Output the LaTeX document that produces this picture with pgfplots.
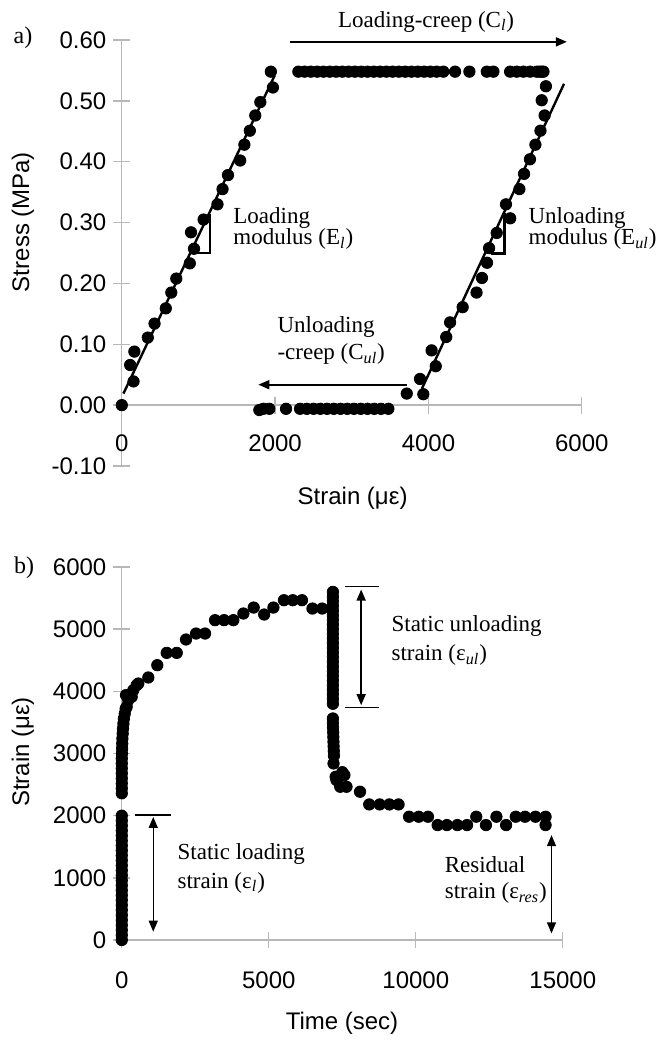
\documentclass[border=0pt]{standalone}
\usepackage{fontspec}
\setmainfont{Liberation Serif}
\setsansfont{Liberation Sans}
\usepackage{pgfplots}
\pgfplotsset{compat=1.18}
\usetikzlibrary{arrows.meta}

\pgfplotsset{
  panel/.style={
    scale only axis,
    axis x line=middle, axis y line=left,
    axis line style={-, draw=black!28, line width=0.7pt},
    tick style={draw=black!28, line width=0.7pt},
    tick align=center, major tick length=8.4pt,
    hide obscured x ticks=false, hide obscured y ticks=false,
    scaled x ticks=false, scaled y ticks=false,
    tick label style={font=\sffamily\fontsize{12}{14}\selectfont, text=black},
    clip=false,
  },
  dots/.style={only marks, mark=*, mark size=2.85pt, black},
}
\tikzset{
  ann/.style={font=\rmfamily\fontsize{11.5}{13}\selectfont, inner sep=0pt},
  lab/.style={font=\sffamily\fontsize{12}{14}\selectfont},
}

\begin{document}
\begin{tikzpicture}[>={Triangle[length=5.5pt, width=4.5pt]}]
\useasboundingbox (-60.9pt,233pt) rectangle (266.6pt,-287pt);

% a) stress against strain
\begin{axis}[panel,
  at={(0pt,0pt)}, anchor=south west,
  width=230pt, height=213pt,
  xmin=0, xmax=6000, ymin=-0.1, ymax=0.6,
  xtick={0,2000,4000,6000}, xticklabels={0,2000,4000,6000},
  ytick={-0.1,0,0.1,0.2,0.3,0.4,0.5,0.6},
  yticklabels={-0.10,0.00,0.10,0.20,0.30,0.40,0.50,0.60},
  xticklabel style={yshift=-7pt},
]
\addplot[black, line width=1.2pt] coordinates {(21,0.019) (1995,0.542)};
\addplot[black, line width=1.2pt] coordinates {(3914,0.027) (5768,0.528)};
% loading
\addplot[dots] coordinates {
  (0,0.000) (109,0.066) (153,0.039) (164,0.088) (339,0.111) (427,0.134)
  (574,0.159) (646,0.185) (711,0.208) (887,0.233) (942,0.257) (903,0.284)
  (1067,0.305) (1248,0.330) (1314,0.355) (1385,0.378) (1544,0.402)
  (1599,0.428) (1670,0.451) (1741,0.476) (1807,0.498) (1971,0.522) (1944,0.548)
};
% loading creep
\addplot[dots] coordinates {
  (2303,0.548) (2385,0.548) (2467,0.548) (2549,0.548) (2631,0.548) (2713,0.548)
  (2795,0.548) (2877,0.548) (2959,0.548) (3041,0.548) (3123,0.548) (3205,0.548)
  (3287,0.548) (3369,0.548) (3451,0.548) (3533,0.548) (3615,0.548) (3697,0.548)
  (3779,0.548) (3861,0.548) (3943,0.548) (4025,0.548) (4107,0.548) (4194,0.548)
  (4347,0.548) (4534,0.548) (4761,0.548) (4847,0.548) (5065,0.548) (5152,0.548)
  (5238,0.548) (5326,0.548) (5413,0.548) (5450,0.548) (5478,0.548) (5500,0.548)
};
% unloading
\addplot[dots] coordinates {
  (5532,0.524) (5477,0.501) (5515,0.476) (5461,0.451) (5395,0.428) (5324,0.404)
  (5247,0.380) (5186,0.355) (5011,0.330) (5066,0.307) (4890,0.283) (4791,0.258)
  (4764,0.234) (4698,0.209) (4627,0.185) (4446,0.161) (4282,0.136) (4232,0.112)
  (4041,0.090) (4095,0.064) (3890,0.043) (3933,0.018) (3717,0.019)
};
% unloading creep
\addplot[dots] coordinates {
  (1794,-0.008) (1846,-0.006) (1924,-0.006) (2142,-0.006) (2325,-0.006)
  (2413,-0.006) (2501,-0.006) (2589,-0.006) (2677,-0.006) (2765,-0.006)
  (2853,-0.006) (2941,-0.006) (3029,-0.006) (3117,-0.006) (3205,-0.006)
  (3293,-0.006) (3381,-0.006) (3477,-0.006)
};
\draw[line width=0.9pt, ->] (axis cs:2190,0.597) -- (axis cs:5805,0.597);
\node[ann] at (axis cs:3970,0.630) {Loading-creep (C\textsubscript{\textit{l}})};
\draw[line width=1.2pt] (axis cs:977,0.25) -- (axis cs:1151,0.25) -- (axis cs:1151,0.314);
\draw[line width=1.2pt] (axis cs:4813,0.249) -- (axis cs:4990,0.249) -- (axis cs:4990,0.316);
\node[ann, anchor=west] at (axis cs:1451,0.307) {Loading};
\node[ann, anchor=west] at (axis cs:1451,0.273) {modulus (E\textsubscript{\textit{l}})};
\node[ann, anchor=west] at (axis cs:5301,0.307) {Unloading};
\node[ann, anchor=west] at (axis cs:5301,0.273) {modulus (E\textsubscript{\textit{ul}})};
\node[ann, anchor=west] at (axis cs:2026,0.129) {Unloading};
\node[ann, anchor=west] at (axis cs:2026,0.084) {-creep (C\textsubscript{\textit{ul}})};
\draw[line width=0.9pt, ->] (axis cs:3717,0.0336) -- (axis cs:1781,0.0336);
\end{axis}

% b) strain against time
\begin{axis}[panel,
  at={(0pt,-237pt)}, anchor=south west,
  width=220.5pt, height=186.5pt,
  xmin=0, xmax=15000, ymin=0, ymax=6000,
  xtick={0,5000,10000,15000}, xticklabels={0,5000,10000,15000},
  ytick={0,1000,2000,3000,4000,5000,6000},
  yticklabels={0,1000,2000,3000,4000,5000,6000},
  xticklabel style={yshift=-8pt},
]
% loading
\addplot[dots] coordinates {
  (0,0) (0,80) (0,160) (0,240) (0,320) (0,400) (0,480) (0,560) (0,640)
  (0,720) (0,800) (0,880) (0,960) (0,1040) (0,1120) (0,1200) (0,1280)
  (0,1360) (0,1440) (0,1520) (0,1600) (0,1680) (0,1760) (0,1840) (0,1920) (0,2000)
};
% loading creep
\addplot[dots] coordinates {
  (0,2360) (0,2440) (0,2520) (0,2600) (0,2680) (0,2760) (0,2840) (0,2920)
  (5,3000) (10,3080) (15,3160) (20,3240) (30,3320) (40,3400) (55,3480)
  (70,3560) (100,3640) (130,3720) (166,3751) (143,3939) (221,3859)
  (337,3912) (391,4019) (507,4100) (562,4126) (902,4223) (1208,4421)
  (1528,4619) (1869,4619) (2185,4834) (2526,4930) (2832,4930) (3172,5145)
  (3479,5145) (3795,5145) (4136,5252) (4487,5348) (4843,5236) (5157,5348)
  (5516,5466) (5816,5466) (6129,5466) (6485,5332) (6815,5332)
};
% unloading
\addplot[dots] coordinates {
  (7180,5600) (7180,5525) (7180,5450) (7180,5375) (7180,5300) (7180,5225)
  (7180,5150) (7180,5075) (7180,5000) (7180,4925) (7180,4850) (7180,4775)
  (7180,4700) (7180,4625) (7180,4550) (7180,4475) (7180,4400) (7180,4325)
  (7180,4250) (7180,4175) (7180,4100) (7180,4025) (7180,3950) (7180,3875)
  (7180,3800)
};
% unloading creep
\addplot[dots] coordinates {
  (7180,3564) (7180,3490) (7185,3415) (7190,3340) (7195,3265) (7200,3190)
  (7205,3115) (7210,3040) (7215,2965) (7202,2840) (7273,2625) (7300,2573)
  (7430,2465) (7500,2700) (7572,2653) (7643,2465) (8103,2385) (8415,2181)
  (8772,2181) (9100,2181) (9414,2181) (9771,1983) (10100,1983) (10414,1983)
  (10743,1849) (11057,1849) (11414,1849) (11743,1849) (12057,1983)
  (12386,1849) (12743,1983) (13072,1849) (13400,1983) (13714,1983)
  (14072,1983) (14414,1983) (14414,1849)
};
\draw[line width=0.7pt, <->] (axis cs:8142,5638) -- (axis cs:8142,3778);
\draw[line width=0.7pt] (axis cs:7597,5691) -- (axis cs:8744,5691);
\draw[line width=0.7pt] (axis cs:7597,3741) -- (axis cs:8744,3741);
\node[ann, anchor=west] at (axis cs:9163,5048) {Static unloading};
\node[ann, anchor=west] at (axis cs:9163,4582) {strain (ε\textsubscript{\textit{ul}})};
\draw[line width=0.7pt] (axis cs:456,2010) -- (axis cs:1685,2010);
\draw[line width=0.7pt, <->] (axis cs:1070,1980) -- (axis cs:1070,134);
\node[ann, anchor=west] at (axis cs:1885,1378) {Static loading};
\node[ann, anchor=west] at (axis cs:1885,922) {strain (ε\textsubscript{\textit{l}})};
\draw[line width=0.7pt, <->] (axis cs:14616,1688) -- (axis cs:14616,107);
\node[ann, anchor=west] at (axis cs:10973,1217) {Residual};
\node[ann, anchor=west] at (axis cs:10973,750) {strain (ε\textsubscript{\textit{res}})};
\end{axis}

\node[lab, rotate=90] at (-49.4pt,122pt) {Stress (MPa)};
\node[lab] at (115.4pt,-16pt) {Strain (με)};
\node[lab, rotate=90] at (-49.4pt,-143pt) {Strain (με)};
\node[lab] at (110.1pt,-278.5pt) {Time (sec)};
\node[ann, font=\rmfamily\fontsize{12}{14}\selectfont] at (-49.4pt,214pt) {a)};
\node[ann, font=\rmfamily\fontsize{12}{14}\selectfont] at (-48.9pt,-51pt) {b)};
\end{tikzpicture}
\end{document}
